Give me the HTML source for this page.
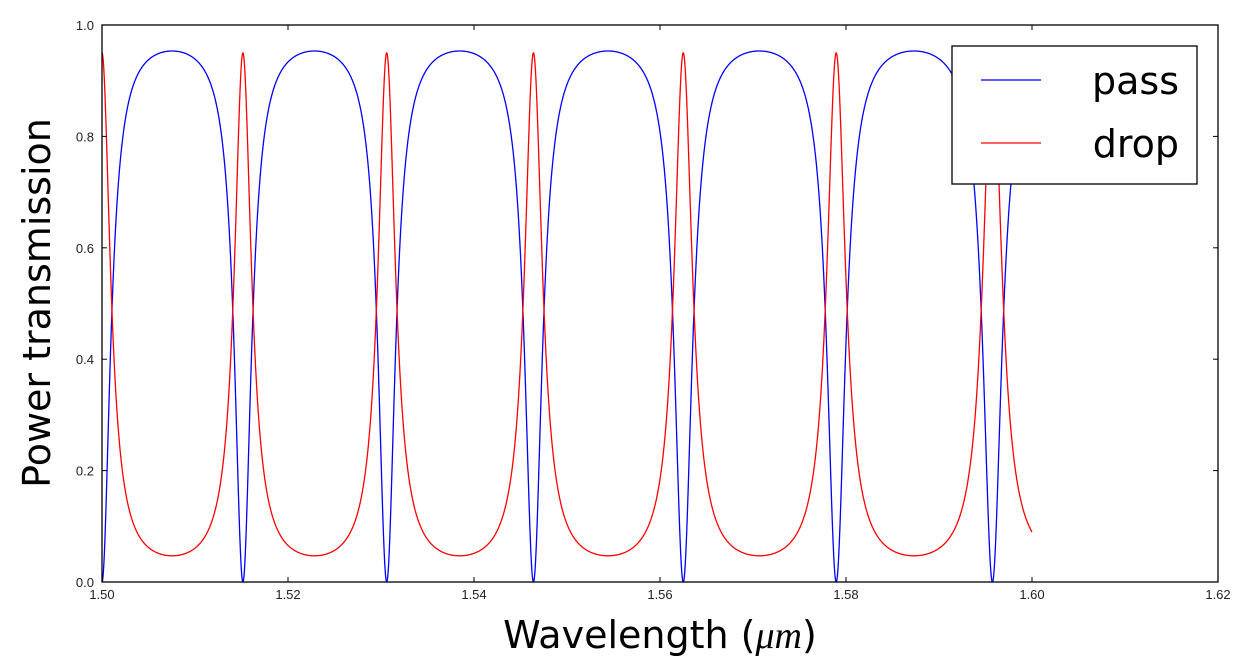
<!DOCTYPE html>
<html><head><meta charset="utf-8"><style>
html,body{margin:0;padding:0;background:#fff;}
svg{display:block;font-family:"Liberation Sans","DejaVu Sans",sans-serif;}
</style></head><body>
<svg id="s" width="1258" height="666" viewBox="0 0 1258 666" xmlns="http://www.w3.org/2000/svg">
<rect width="1258" height="666" fill="#fff"/>
<g id="curves"></g>
<rect x="102" y="25" width="1116" height="557" fill="none" stroke="#000" stroke-width="1.3"/>
<g id="ticks" stroke="#000" stroke-width="1"></g>
<g id="labels" font-size="13" fill="#222"></g>
<text x="660" y="648" font-size="38" text-anchor="middle" fill="#000" font-family="DejaVu Sans, sans-serif">Wavelength (<tspan font-style="italic" font-family="Liberation Serif, serif">μm</tspan>)</text>
<text transform="translate(50,303) rotate(-90)" font-size="38" text-anchor="middle" fill="#000" font-family="DejaVu Sans, sans-serif">Power transmission</text>
<rect x="952" y="46" width="245" height="138" fill="#fff" stroke="#000" stroke-width="1.3"/>
<line x1="981" y1="80" x2="1041" y2="80" stroke="#00f" stroke-width="1.3"/>
<line x1="981" y1="143" x2="1041" y2="143" stroke="#f00" stroke-width="1.3"/>
<text x="1179" y="94" font-size="38" text-anchor="end" fill="#000" font-family="DejaVu Sans, sans-serif">pass</text>
<text x="1179" y="157" font-size="38" text-anchor="end" fill="#000" font-family="DejaVu Sans, sans-serif">drop</text>
</svg>
<script>
const X=l=>102+(l-1.5)*9300, Y=v=>582-v*557;
const F=19.2;
let p="",d="";
for(let i=0;i<=6000;i++){const l=1.5+0.1*i/6000;const s=Math.sin(Math.PI*150/l);const s2=s*s;
const dr=0.95/(1+F*s2), pa=F*s2/(1+F*s2)*1.003;
p+=(i?"L":"M")+X(l).toFixed(2)+" "+Y(pa).toFixed(2);
d+=(i?"L":"M")+X(l).toFixed(2)+" "+Y(dr).toFixed(2);}
const ns="http://www.w3.org/2000/svg";
const c=document.getElementById("curves");
function mk(t,a,par){const e=document.createElementNS(ns,t);for(const k in a)e.setAttribute(k,a[k]);par.appendChild(e);return e;}
mk("path",{d:p,fill:"none",stroke:"#00f","stroke-width":1.3},c);
mk("path",{d:d,fill:"none",stroke:"#f00","stroke-width":1.3},c);
const t=document.getElementById("ticks"),lb=document.getElementById("labels");
for(let i=0;i<=6;i++){const l=1.5+i*0.02,x=X(l);
mk("line",{x1:x,y1:582,x2:x,y2:577},t);mk("line",{x1:x,y1:25,x2:x,y2:30},t);
const tx=mk("text",{x:x,y:599,"text-anchor":"middle"},lb);tx.textContent=l.toFixed(2);}
for(let i=0;i<=5;i++){const v=i*0.2,y=Y(v);
mk("line",{x1:102,y1:y,x2:107,y2:y},t);mk("line",{x1:1218,y1:y,x2:1213,y2:y},t);
const tx=mk("text",{x:94,y:y+5,"text-anchor":"end"},lb);tx.textContent=v.toFixed(1);}
</script>
</body></html>
